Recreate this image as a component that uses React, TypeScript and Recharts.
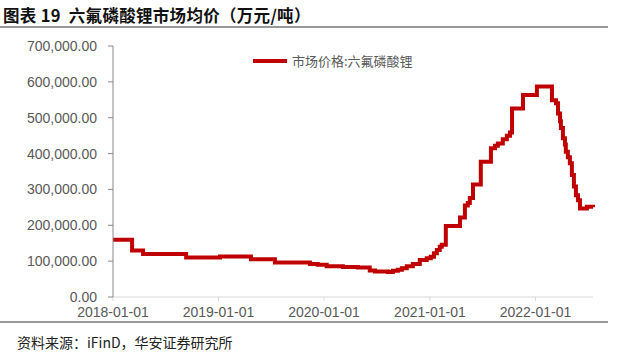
import React from 'react';
import { LineChart, Line, XAxis, YAxis } from 'recharts';

// change points of the weekly price series (step chart)
const dates = [
  '2018-01-01', '2018-03-08', '2018-04-15', '2018-09-11', '2019-01-06', '2019-04-23',
  '2019-07-15', '2019-11-13', '2019-12-10', '2020-01-10', '2020-03-06', '2020-04-27',
  '2020-06-07', '2020-06-25', '2020-08-09', '2020-08-26', '2020-09-12', '2020-09-26',
  '2020-10-13', '2020-11-03', '2020-11-27', '2020-12-21', '2021-01-04', '2021-01-15',
  '2021-01-25', '2021-02-04', '2021-02-11', '2021-02-25', '2021-04-15', '2021-05-02',
  '2021-05-12', '2021-05-19', '2021-05-30', '2021-06-26', '2021-07-31', '2021-08-14',
  '2021-08-24', '2021-09-10', '2021-09-24', '2021-10-05', '2021-10-12', '2021-11-19',
  '2022-01-06', '2022-02-27', '2022-03-13', '2022-03-20', '2022-03-27', '2022-03-30',
  '2022-04-06', '2022-04-13', '2022-04-16', '2022-04-23', '2022-04-30', '2022-05-07',
  '2022-05-14', '2022-05-21', '2022-05-28', '2022-06-04', '2022-06-28', '2022-07-19',
];

const prices = [
  160000, 130000, 120000, 110000, 113000, 105000,
  96000, 92000, 90000, 86000, 84000, 82000,
  74000, 71000, 70000, 73000, 76000, 80000,
  86000, 92000, 103000, 108000, 112000, 122000,
  131000, 140000, 146000, 198000, 222000, 255000,
  262000, 276000, 314000, 377000, 415000, 422000,
  428000, 440000, 450000, 459000, 526000, 563000,
  587000, 549000, 540000, 512000, 490000, 471000,
  443000, 425000, 405000, 390000, 373000, 340000,
  308000, 284000, 270000, 247000, 252000, 250000,
];

const xTicks = ['2018-01-01', '2019-01-01', '2020-01-01', '2021-01-01', '2022-01-01'];
const yTicks = [0, 100000, 200000, 300000, 400000, 500000, 600000, 700000];

const seriesName = '市场价格:六氟磷酸锂';

const ts = (d: string) => Date.parse(d + 'T00:00:00Z');

const data = dates.map((d, i) => ({ t: ts(d), price: prices[i] }));

const fmtDate = (t: number) => new Date(t).toISOString().slice(0, 10);
const fmtNum = (v: number) =>
  v.toLocaleString('en-US', { minimumFractionDigits: 2, maximumFractionDigits: 2 });

const tickStyle = { fill: '#595959', fontSize: 14, fontFamily: '"Liberation Sans", Arial' };

export default function App() {
  return (
    <div style={{ position: 'absolute', left: 0, top: 0, width: 639, height: 354, background: '#fff' }}>
      <div
        style={{
          position: 'absolute', left: 3, top: 4, fontFamily: '"Noto Sans CJK SC"', fontWeight: 700,
          fontSize: 16.5, color: '#111', whiteSpace: 'nowrap', lineHeight: '22px', letterSpacing: 0.3,
        }}
      >
        图表 19{'\u00a0\u00a0'}六氟磷酸锂市场均价（万元/吨）
      </div>
      <div style={{ position: 'absolute', left: 0, top: 26, width: 608, height: 2, background: '#999' }} />
      <div style={{ position: 'absolute', left: 0, top: 321, width: 608, height: 2, background: '#999' }} />
      <div
        style={{
          position: 'absolute', left: 17, top: 332, fontFamily: '"Noto Sans CJK SC"', fontSize: 14,
          color: '#222', whiteSpace: 'nowrap', lineHeight: '20px',
        }}
      >
        资料来源：iFinD，华安证券研究所
      </div>
      <div style={{ position: 'absolute', left: 0, top: 0 }}>
        <LineChart width={639} height={354} data={data} margin={{ top: 46, right: 46, bottom: 0, left: 0 }}>
          <XAxis
            dataKey="t"
            type="number"
            domain={[ts('2018-01-01'), ts('2022-07-19')]}
            ticks={xTicks.map(ts)}
            tickFormatter={fmtDate}
            height={57}
            stroke="#d9d9d9"
            tickSize={4}
            tickMargin={6}
            tick={tickStyle}
          />
          <YAxis
            type="number"
            domain={[0, 700000]}
            ticks={yTicks}
            tickFormatter={fmtNum}
            width={113}
            stroke="#888"
            tickSize={5}
            tickMargin={11}
            tick={tickStyle}
          />
          <Line
            type="stepAfter"
            dataKey="price"
            name={seriesName}
            stroke="#C00000"
            strokeWidth={4}
            dot={false}
            isAnimationActive={false}
          />
        </LineChart>
      </div>
      <div
        style={{
          position: 'absolute', left: 253, top: 51, display: 'flex', alignItems: 'center',
          fontFamily: '"Noto Sans CJK SC"', fontSize: 13, color: '#595959', lineHeight: '20px',
        }}
      >
        <span style={{ display: 'inline-block', width: 34, height: 4, background: '#C00000', marginRight: 5 }} />
        <span>{seriesName}</span>
      </div>
    </div>
  );
}
